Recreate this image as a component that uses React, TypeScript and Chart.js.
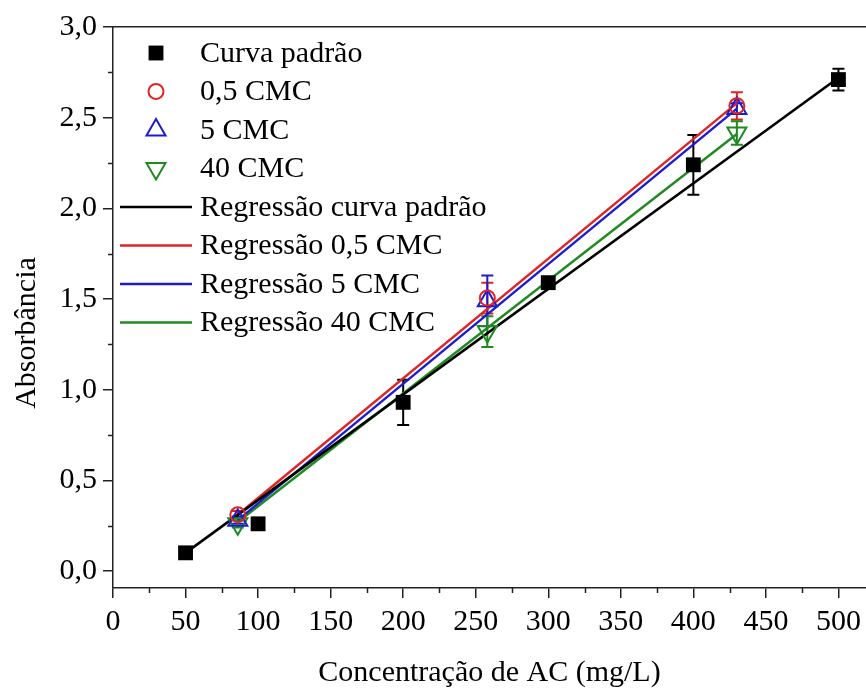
import React, { useEffect, useRef } from 'react';
import { Chart, registerables } from 'chart.js';

Chart.register(...registerables);

const FONT = '"Liberation Serif", "Times New Roman", serif';

// ---- data ----
const curvaX = [50, 100, 200, 300, 400, 500];
const curvaY = [0.10, 0.26, 0.93, 1.59, 2.24, 2.71];
const curvaErr = [0.03, 0.03, 0.125, 0.02, 0.165, 0.06];

const cmcX = [86, 258, 430];
const cmc05Y = [0.31, 1.505, 2.565];
const cmc05Err = [0.02, 0.085, 0.075];
const cmc5Y = [0.28, 1.49, 2.55];
const cmc5Err = [0.02, 0.14, 0.03];
const cmc40Y = [0.26, 1.32, 2.415];
const cmc40Err = [0.02, 0.085, 0.065];

const regCurvaX = [50, 500];
const regCurvaY = [0.10, 2.72];
const regCmcX = [86, 430];
const reg05Y = [0.31, 2.58];
const reg5Y = [0.28, 2.55];
const reg40Y = [0.27, 2.41];

const xMajorTicks = [0, 50, 100, 150, 200, 250, 300, 350, 400, 450, 500];
const xMinorTicks = [25, 75, 125, 175, 225, 275, 325, 375, 425, 475];
const yMajorTicks = [0, 0.5, 1.0, 1.5, 2.0, 2.5, 3.0];
const yMinorTicks = [0.25, 0.75, 1.25, 1.75, 2.25, 2.75];

const xTitle = 'Concentração de AC (mg/L)';
const yTitle = 'Absorbância';

const BLACK = '#000000';
const RED = '#e02424';
const BLUE = '#1c1ccf';
const GREEN = '#1f8a1f';
const AXIS = '#222222';

const pts = (xs: number[], ys: number[]) => xs.map((x, i) => ({ x, y: ys[i] }));

function drawMarker(ctx: CanvasRenderingContext2D, style: string, x: number, y: number, r: number, rot: number) {
  ctx.beginPath();
  if (style === 'rect') {
    const s = Math.SQRT1_2 * r;
    ctx.rect(x - s, y - s, 2 * s, 2 * s);
    ctx.fill();
    return;
  }
  if (style === 'circle') {
    ctx.arc(x, y, r, 0, Math.PI * 2);
    ctx.stroke();
    return;
  }
  if (style === 'triangle') {
    let rad = (rot * Math.PI) / 180;
    ctx.moveTo(x + Math.sin(rad) * r, y - Math.cos(rad) * r);
    rad += (2 * Math.PI) / 3;
    ctx.lineTo(x + Math.sin(rad) * r, y - Math.cos(rad) * r);
    rad += (2 * Math.PI) / 3;
    ctx.lineTo(x + Math.sin(rad) * r, y - Math.cos(rad) * r);
    ctx.closePath();
    ctx.stroke();
  }
}

const errorBarPlugin = {
  id: 'errorBars',
  beforeDatasetsDraw(chart: any) {
    const ctx = chart.ctx;
    const yScale = chart.scales.y;
    chart.data.datasets.forEach((ds: any, i: number) => {
      if (!ds.errors) return;
      const meta = chart.getDatasetMeta(i);
      ctx.save();
      ctx.strokeStyle = ds.borderColor;
      ctx.lineWidth = 2;
      meta.data.forEach((el: any, j: number) => {
        const v = ds.data[j].y;
        const e = ds.errors[j];
        const x = el.x;
        const y1 = yScale.getPixelForValue(v + e);
        const y2 = yScale.getPixelForValue(v - e);
        ctx.beginPath();
        ctx.moveTo(x, y1);
        ctx.lineTo(x, y2);
        ctx.moveTo(x - 6, y1);
        ctx.lineTo(x + 6, y1);
        ctx.moveTo(x - 6, y2);
        ctx.lineTo(x + 6, y2);
        ctx.stroke();
      });
      ctx.restore();
    });
  },
};

const decorPlugin = {
  id: 'decor',
  afterDraw(chart: any) {
    const ctx = chart.ctx;
    const { left, bottom } = chart.chartArea;
    const xs = chart.scales.x;
    const ys = chart.scales.y;
    ctx.save();
    // minor ticks
    ctx.strokeStyle = AXIS;
    ctx.lineWidth = 1.5;
    ctx.beginPath();
    xMinorTicks.forEach((v) => {
      const px = Math.round(xs.getPixelForValue(v)) + 0.5;
      ctx.moveTo(px, bottom);
      ctx.lineTo(px, bottom + 5);
    });
    yMinorTicks.forEach((v) => {
      const py = Math.round(ys.getPixelForValue(v)) + 0.5;
      ctx.moveTo(left - 5, py);
      ctx.lineTo(left, py);
    });
    ctx.stroke();

    // axis titles
    ctx.fillStyle = BLACK;
    ctx.font = `30px ${FONT}`;
    ctx.textAlign = 'center';
    ctx.textBaseline = 'alphabetic';
    ctx.fillText(xTitle, (left + chart.chartArea.right) / 2, 681);
    ctx.save();
    ctx.translate(35, 333);
    ctx.rotate(-Math.PI / 2);
    ctx.fillText(yTitle, 0, 0);
    ctx.restore();

    // legend
    ctx.textAlign = 'left';
    ctx.textBaseline = 'middle';
    chart.data.datasets.forEach((ds: any, i: number) => {
      const cy = 53 + i * 38.5;
      ctx.strokeStyle = ds.borderColor;
      ctx.fillStyle = ds.backgroundColor;
      if (ds.showLine) {
        ctx.lineWidth = ds.borderWidth;
        ctx.beginPath();
        ctx.moveTo(120, cy);
        ctx.lineTo(192, cy);
        ctx.stroke();
      } else {
        ctx.lineWidth = ds.pointBorderWidth;
        drawMarker(ctx, ds.pointStyle, 156, cy, ds.pointRadius, ds.pointRotation || 0);
      }
      ctx.fillStyle = BLACK;
      ctx.fillText(ds.label, 200, cy + 1);
    });
    ctx.restore();
  },
};

export default function App() {
  const ref = useRef<HTMLCanvasElement | null>(null);

  useEffect(() => {
    if (!ref.current) return;
    const tickFont = { family: FONT, size: 30 };
    const chart = new Chart(ref.current, {
      type: 'scatter',
      data: {
        datasets: [
          {
            label: 'Curva padrão',
            data: pts(curvaX, curvaY),
            errors: curvaErr,
            pointStyle: 'rect',
            pointRadius: 10.5,
            pointBorderWidth: 0,
            backgroundColor: BLACK,
            borderColor: BLACK,
            showLine: false,
          } as any,
          {
            label: '0,5 CMC',
            data: pts(cmcX, cmc05Y),
            errors: cmc05Err,
            pointStyle: 'circle',
            pointRadius: 7.5,
            pointBorderWidth: 2,
            backgroundColor: 'rgba(0,0,0,0)',
            borderColor: RED,
            showLine: false,
          } as any,
          {
            label: '5 CMC',
            data: pts(cmcX, cmc5Y),
            errors: cmc5Err,
            pointStyle: 'triangle',
            pointRadius: 11,
            pointBorderWidth: 2,
            backgroundColor: 'rgba(0,0,0,0)',
            borderColor: BLUE,
            showLine: false,
          } as any,
          {
            label: '40 CMC',
            data: pts(cmcX, cmc40Y),
            errors: cmc40Err,
            pointStyle: 'triangle',
            pointRotation: 180,
            pointRadius: 11,
            pointBorderWidth: 2,
            backgroundColor: 'rgba(0,0,0,0)',
            borderColor: GREEN,
            showLine: false,
          } as any,
          {
            label: 'Regressão curva padrão',
            data: pts(regCurvaX, regCurvaY),
            showLine: true,
            pointRadius: 0,
            borderWidth: 2.6,
            borderColor: BLACK,
            backgroundColor: BLACK,
          },
          {
            label: 'Regressão 0,5 CMC',
            data: pts(regCmcX, reg05Y),
            showLine: true,
            pointRadius: 0,
            borderWidth: 2.4,
            borderColor: RED,
            backgroundColor: RED,
          },
          {
            label: 'Regressão 5 CMC',
            data: pts(regCmcX, reg5Y),
            showLine: true,
            pointRadius: 0,
            borderWidth: 2.4,
            borderColor: BLUE,
            backgroundColor: BLUE,
          },
          {
            label: 'Regressão 40 CMC',
            data: pts(regCmcX, reg40Y),
            showLine: true,
            pointRadius: 0,
            borderWidth: 2.4,
            borderColor: GREEN,
            backgroundColor: GREEN,
          },
        ],
      },
      options: {
        responsive: false,
        animation: false,
        events: [],
        layout: { padding: 0, autoPadding: false },
        plugins: {
          legend: { display: false },
          tooltip: { enabled: false },
          title: { display: false },
        },
        scales: {
          x: {
            type: 'linear',
            position: 'bottom',
            min: 0,
            max: 519,
            afterBuildTicks: (s: any) => {
              s.ticks = xMajorTicks.map((v) => ({ value: v }));
            },
            afterFit: (s: any) => {
              s.height = 100;
              s.paddingLeft = 0;
              s.paddingRight = 0;
            },
            ticks: {
              font: tickFont,
              color: BLACK,
              padding: 6,
              maxRotation: 0,
              autoSkip: false,
              callback: (v: any) => String(v),
            },
            grid: {
              display: true,
              drawOnChartArea: false,
              drawTicks: true,
              tickLength: 10,
              color: AXIS,
              lineWidth: 1.5,
            },
            border: { display: true, color: AXIS, width: 1.5 },
          },
          x2: {
            type: 'linear',
            position: 'top',
            min: 0,
            max: 519,
            afterFit: (s: any) => {
              s.height = 27;
              s.paddingLeft = 0;
              s.paddingRight = 0;
            },
            ticks: { display: false },
            grid: { display: false, drawTicks: false },
            border: { display: true, color: AXIS, width: 1.5 },
          },
          y: {
            type: 'linear',
            position: 'left',
            min: -0.094,
            max: 3.0,
            afterBuildTicks: (s: any) => {
              s.ticks = yMajorTicks.map((v) => ({ value: v }));
            },
            afterFit: (s: any) => {
              s.width = 113;
              s.paddingTop = 0;
              s.paddingBottom = 0;
            },
            ticks: {
              font: tickFont,
              color: BLACK,
              padding: 6,
              autoSkip: false,
              callback: (v: any) => Number(v).toFixed(1).replace('.', ','),
            },
            grid: {
              display: true,
              drawOnChartArea: false,
              drawTicks: true,
              tickLength: 10,
              color: AXIS,
              lineWidth: 1.5,
            },
            border: { display: true, color: AXIS, width: 1.5 },
          },
        },
      } as any,
      plugins: [errorBarPlugin, decorPlugin],
    });
    return () => chart.destroy();
  }, []);

  return (
    <div style={{ position: 'absolute', left: 0, top: 0, width: 866, height: 688, background: '#fff' }}>
      <canvas ref={ref} width={866} height={688} style={{ display: 'block', width: 866, height: 688 }} />
    </div>
  );
}
